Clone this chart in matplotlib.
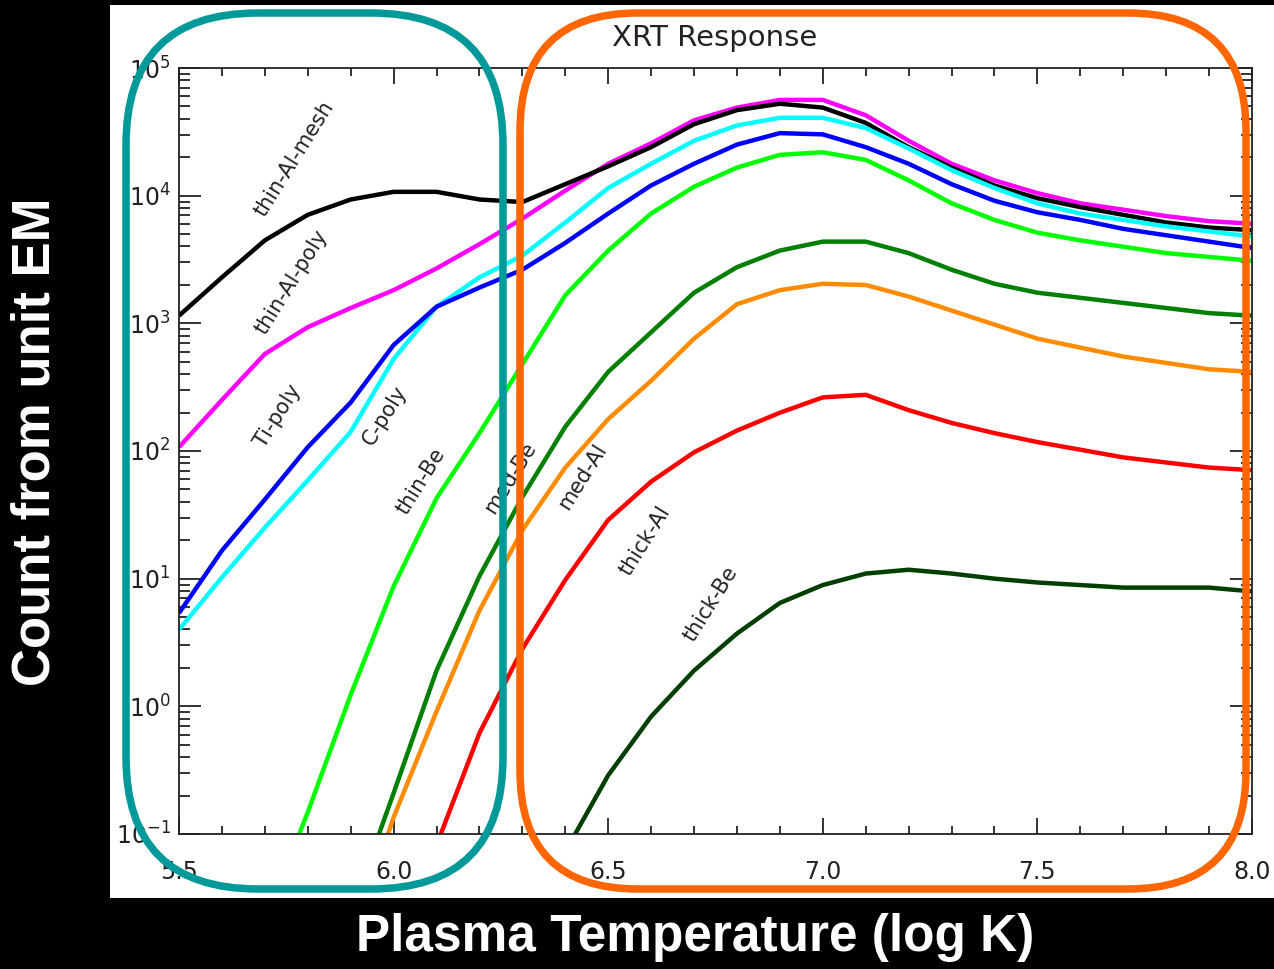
import matplotlib
matplotlib.use("Agg")
import matplotlib.pyplot as plt
from matplotlib.patches import FancyBboxPatch, Rectangle
from matplotlib.ticker import MultipleLocator, FormatStrFormatter, LogLocator, NullFormatter

plt.rcParams['mathtext.default'] = 'regular'

# ── data: log10(count from unit EM) ──
log_t = [5.5, 5.6, 5.7, 5.8, 5.9, 6.0, 6.1, 6.2, 6.3, 6.4, 6.5, 6.6, 6.7,
         6.8, 6.9, 7.0, 7.1, 7.2, 7.3, 7.4, 7.5, 7.6, 7.7, 7.8, 7.9, 8.0]

thin_al_mesh = [3.06, 3.36, 3.65, 3.85, 3.97, 4.03, 4.03, 3.97, 3.95, 4.09, 4.23, 4.38, 4.56,
                4.67, 4.72, 4.69, 4.57, 4.38, 4.22, 4.08, 3.98, 3.91, 3.85, 3.79, 3.75, 3.73]
thin_al_poly = [2.03, 2.40, 2.76, 2.97, 3.12, 3.26, 3.43, 3.62, 3.82, 4.04, 4.25, 4.41, 4.59,
                4.69, 4.75, 4.75, 4.63, 4.43, 4.25, 4.12, 4.02, 3.94, 3.89, 3.84, 3.80, 3.78]
c_poly = [0.60, 1.01, 1.40, 1.77, 2.15, 2.72, 3.13, 3.36, 3.53, 3.79, 4.06, 4.25, 4.43,
          4.55, 4.61, 4.61, 4.53, 4.37, 4.20, 4.06, 3.94, 3.86, 3.81, 3.76, 3.72, 3.68]
ti_poly = [0.73, 1.22, 1.62, 2.03, 2.38, 2.83, 3.13, 3.28, 3.42, 3.63, 3.86, 4.08, 4.25,
           4.40, 4.49, 4.48, 4.38, 4.25, 4.09, 3.96, 3.87, 3.81, 3.74, 3.69, 3.64, 3.59]

# thick filters: first point is where the curve leaves the bottom of the plot
thin_be_t = [5.78] + log_t[3:]
thin_be = [-1.0, -0.83, 0.09, 0.94, 1.63, 2.14, 2.68, 3.22, 3.57, 3.86, 4.07,
           4.22, 4.32, 4.34, 4.28, 4.12, 3.94, 3.81, 3.71, 3.65, 3.60, 3.55, 3.52, 3.49]
med_be_t = [5.966] + log_t[5:]
med_be = [-1.0, -0.68, 0.28, 1.02, 1.64, 2.19, 2.62, 2.93, 3.24,
          3.44, 3.57, 3.64, 3.64, 3.55, 3.42, 3.31, 3.24, 3.20, 3.16, 3.12, 3.08, 3.06]
med_al_t = [5.987] + log_t[5:]
med_al = [-1.0, -0.87, -0.04, 0.75, 1.38, 1.87, 2.25, 2.55, 2.88,
          3.15, 3.26, 3.31, 3.30, 3.21, 3.10, 2.99, 2.88, 2.81, 2.74, 2.69, 2.64, 2.62]
thick_al_t = [6.11] + log_t[7:]
thick_al = [-1.0, -0.21, 0.45, 0.99, 1.46, 1.76, 1.99,
            2.16, 2.30, 2.42, 2.44, 2.32, 2.22, 2.14, 2.07, 2.01, 1.95, 1.91, 1.87, 1.85]
thick_be_t = [6.423] + log_t[10:]
thick_be = [-1.0, -0.54, -0.08, 0.28,
            0.57, 0.81, 0.95, 1.04, 1.07, 1.04, 1.00, 0.97, 0.95, 0.93, 0.93, 0.93, 0.90]

series = [
    (log_t, thin_al_poly, "#FF00FF"),
    (log_t, thin_al_mesh, "black"),
    (log_t, c_poly, "#00FFFF"),
    (log_t, ti_poly, "#0000FF"),
    (thin_be_t, thin_be, "#00FF00"),
    (med_be_t, med_be, "#007F00"),
    (med_al_t, med_al, "#FF8C00"),
    (thick_al_t, thick_al, "#FF0000"),
    (thick_be_t, thick_be, "#003F00"),
]

# curve names and where they sit (logT, log10 count)
label_text = ["thin-Al-mesh", "thin-Al-poly", "Ti-poly", "C-poly", "thin-Be",
              "med-Be", "med-Al", "thick-Al", "thick-Be"]
label_t = [5.77, 5.763, 5.73, 5.98, 6.064, 6.271, 6.439, 6.586, 6.74]
label_log = [4.29, 3.32, 2.27, 2.28, 1.76, 1.79, 1.80, 1.30, 0.80]

# ── figure ──
W, H = 1274, 969
fig = plt.figure(figsize=(W / 100, H / 100), dpi=100, facecolor="black")

fig.add_artist(Rectangle((110 / W, 1 - 898 / H), (W - 110) / W, (898 - 5) / H,
                         transform=fig.transFigure, facecolor="white",
                         edgecolor="none", zorder=-1))

ax = fig.add_axes([179 / W, 1 - 834 / H, (1252 - 179) / W, (834 - 68) / H])
ax.set_yscale("log")
ax.set_xlim(5.5, 8.0)
ax.set_ylim(0.1, 1e5)

for t, v, c in series:
    ax.plot(t, [10 ** x for x in v], color=c, lw=3.2, solid_capstyle="butt")

for s, t, v in zip(label_text, label_t, label_log):
    ax.text(t, 10 ** v, s, rotation=58, rotation_mode="anchor", ha="center",
            va="center", fontsize=15, color="#222222")

ax.xaxis.set_major_locator(MultipleLocator(0.5))
ax.xaxis.set_minor_locator(MultipleLocator(0.1))
ax.xaxis.set_major_formatter(FormatStrFormatter("%.1f"))
ax.yaxis.set_major_locator(LogLocator(base=10, numticks=20))
ax.yaxis.set_minor_locator(LogLocator(base=10, subs=range(2, 10), numticks=20))
ax.yaxis.set_minor_formatter(NullFormatter())

ax.tick_params(which="both", direction="in", top=True, right=True,
               colors="#222222", labelsize=17, width=1.3)
ax.tick_params(axis="y", which="major", length=16, pad=6)
ax.tick_params(axis="y", which="minor", length=8)
ax.tick_params(axis="x", which="major", length=11.5, pad=19)
ax.tick_params(axis="x", which="minor", length=6)
for sp in ax.spines.values():
    sp.set_color("#222222")
    sp.set_linewidth(1.3)

fig.text(715 / W, 1 - 38 / H, "XRT Response", ha="center", va="center",
         fontsize=21, color="#222222")

fig.text(36 / W, 1 - 442 / H, "Count from unit EM", rotation=90, ha="center",
         va="center", fontsize=38, fontweight="bold", family="Liberation Sans",
         color="white")
fig.text(695 / W, 1 - 951 / H, "Plasma Temperature (log K)", ha="center",
         va="baseline", fontsize=37, fontweight="bold", family="Liberation Sans",
         color="white")


# rounded highlight boxes, given in pixel units (top-left origin)
def rbox(x0, y0, x1, y1, r, color):
    fig.add_artist(FancyBboxPatch((x0 / 100, (H - y1) / 100), (x1 - x0) / 100, (y1 - y0) / 100,
                                  boxstyle=f"round,pad=0,rounding_size={r / 100}",
                                  transform=fig.dpi_scale_trans, fill=False,
                                  edgecolor=color, linewidth=5.4, zorder=10))


rbox(126, 13, 503, 889, 132, "#009999")
rbox(520, 13, 1246, 889, 118, "#FF6600")

fig.savefig("out.png", dpi=100, facecolor="black")
